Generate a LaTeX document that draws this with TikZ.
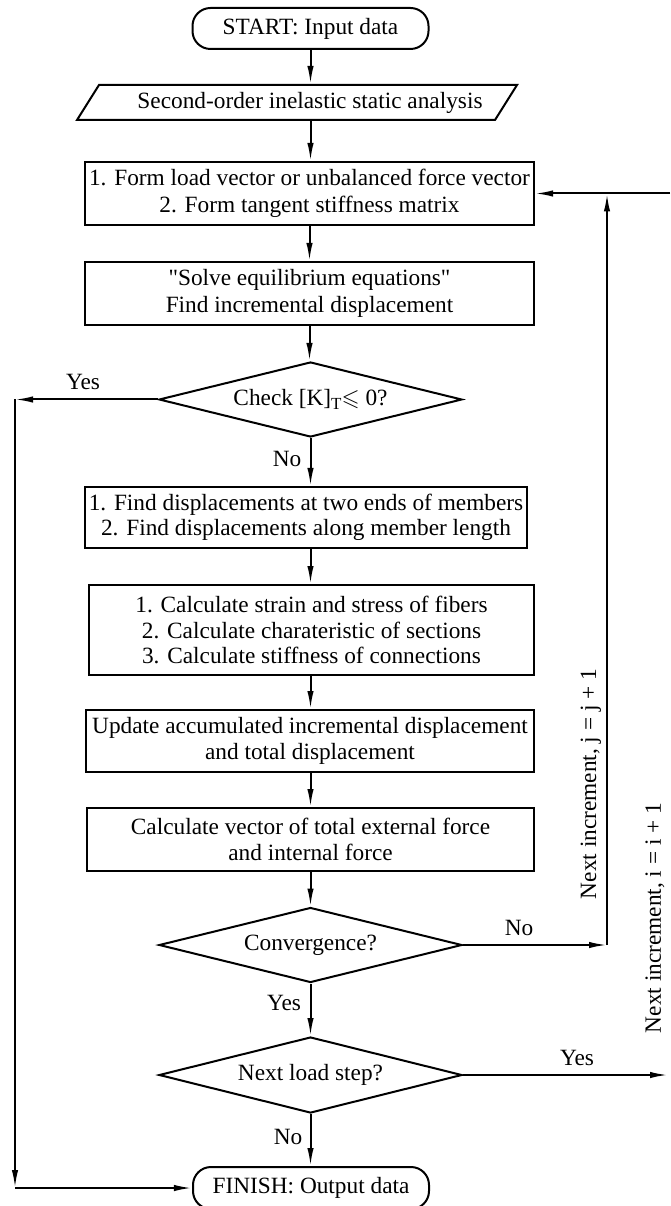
\documentclass[tikz,border=0pt]{standalone}
\usepackage{fontspec}
\setmainfont{Liberation Serif}
\usepackage{amssymb}
\usetikzlibrary{shapes.geometric,arrows.meta}

\begin{document}
\begin{tikzpicture}[x=0.5bp, y=-0.5bp, font=\fontsize{11.7}{12.8}\selectfont, line width=1bp, >={Latex[length=9bp,width=3.2bp]}]
    \tikzstyle{flowbox}=[draw=black, inner sep=0pt, minimum width=224.5bp, minimum height=31.5bp, align=center]
    \tikzstyle{termbox}=[flowbox, rounded corners=9bp, minimum width=118bp, minimum height=20.5bp]
    \tikzstyle{testbox}=[draw=black, diamond, aspect=4, inner sep=0pt, minimum width=151.5bp, minimum height=37.5bp]
    \tikzstyle{lbl}=[inner sep=0pt]

    \useasboundingbox (0,0) rectangle (670,1206);

    \node[termbox] (start) at (310.5,28.5) {START: Input data};
    \node[inner sep=0pt, minimum height=17.5bp] (para) at (310,102.5) {Second-order inelastic static analysis};
    \draw (77,120) -- (99,85) -- (517,85) -- (495,120) -- cycle;

    \node[flowbox] (form) at (309.5,193.5) {1. Form load vector or unbalanced force vector\\[0.6bp]2. Form tangent stiffness matrix};
    \node[flowbox] (solve) at (309.5,293.5) {\textquotedbl Solve equilibrium equations\textquotedbl\\[0.6bp]Find incremental displacement};
    \node[testbox] (check) at (310.5,399.5) {Check [K]\raisebox{-0.45ex}{\fontsize{8.5}{9}\selectfont T}$\leqslant$ 0?};

    \node[flowbox, minimum width=221bp, minimum height=30.5bp] (disp) at (306,517.5) {1. Find displacements at two ends of members\\2. Find displacements along member length};
    \node[flowbox, minimum width=222.5bp, minimum height=45bp] (calc) at (311.5,630) {1. Calculate strain and stress of fibers\\2. Calculate charateristic of sections\\3. Calculate stiffness of connections};
    \node[flowbox, minimum width=224bp, minimum height=31bp] (update) at (310,741) {Update accumulated incremental displacement\\and total displacement};
    \node[flowbox, minimum width=223.5bp] (force) at (310.5,839.5) {Calculate vector of total external force\\and internal force};

    \node[testbox] (conv) at (310.5,945) {Convergence?};
    \node[testbox, minimum height=38bp] (loadstep) at (310.5,1075) {Next load step?};
    \node[termbox, minimum height=21bp] (finish) at (311,1188) {FINISH: Output data};

    % loop corners
    \coordinate (ycorner) at (15,399.5);
    \coordinate (ybottom) at (15,1188);
    \coordinate (jcorner) at (607,945);
    \coordinate (jtop) at (607,193.5);
    \coordinate (iright) at (670,193.5);
    \coordinate (iend) at (668,1075);

    % main line
    \draw[->] (start) -- (start.south |- para.north);
    \draw[->] (para.south -| start.south) -- (start.south |- form.north);
    \draw[->] (form) -- (form.south |- solve.north);
    \draw[->] (solve) -- (solve.south |- check.north);
    \draw[->] (check) -- (check.south |- disp.north);
    \draw[->] (check.south |- disp.south) -- (check.south |- calc.north);
    \draw[->] (check.south |- calc.south) -- (check.south |- update.north);
    \draw[->] (check.south |- update.south) -- (check.south |- force.north);
    \draw[->] (check.south |- force.south) -- (conv);
    \draw[->] (conv) -- (loadstep);
    \draw[->] (loadstep) -- (loadstep.south |- finish.north);

    % branches
    \draw[->] (check.west) -- (ycorner);
    \draw[->] (ycorner) -- (ybottom);
    \draw[->] (ybottom) -- (finish.west);
    \draw[->] (conv.east) -- (jcorner);
    \draw[->] (jcorner) -- (jtop);
    \draw[->] (iright) -- (form.east);
    \draw[->] (loadstep.east) -- (iend);

    \node[lbl] (yes1) at (83,382) {Yes};
    \node[lbl] (no1) at (287,459) {No};
    \node[lbl] (no2) at (519,928) {No};
    \node[lbl] (yes2) at (284,1003) {Yes};
    \node[lbl] (yes3) at (577,1058) {Yes};
    \node[lbl] (no3) at (288,1137) {No};
    \node[lbl, rotate=90] (jlbl) at (591,784) {Next increment, j = j + 1};
    \node[lbl, rotate=90] (ilbl) at (655,918) {Next increment, i = i + 1};
\end{tikzpicture}
\end{document}
